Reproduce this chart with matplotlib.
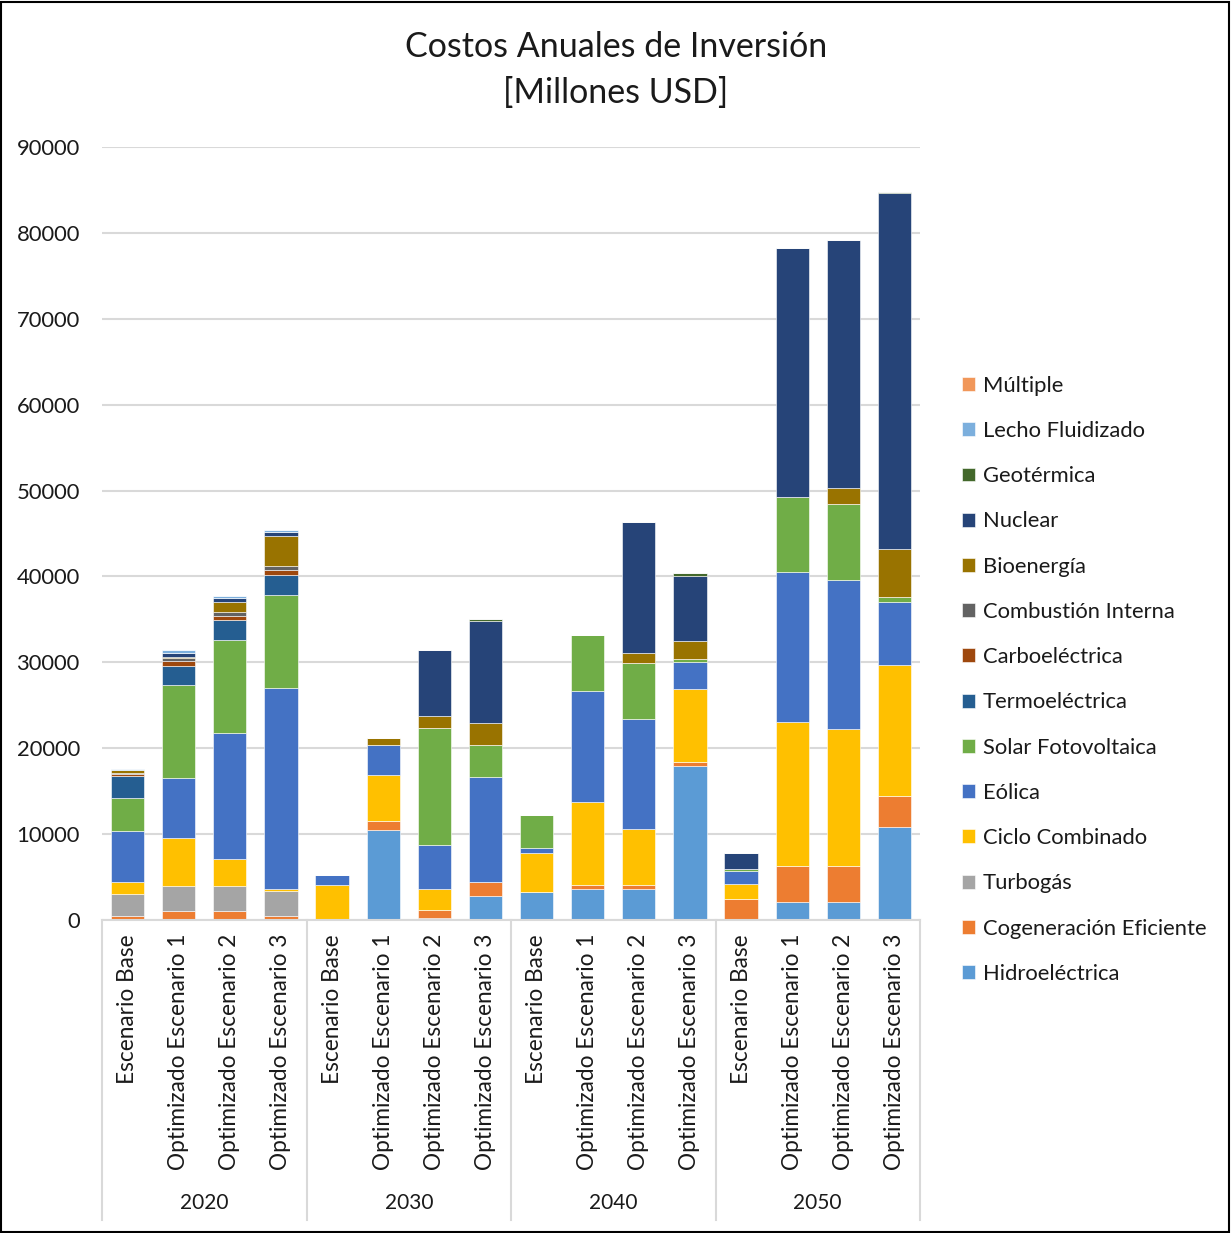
import matplotlib
matplotlib.use("Agg")
import matplotlib.pyplot as plt
from matplotlib.patches import Rectangle
from matplotlib.transforms import blended_transform_factory
import numpy as np

plt.rcParams['font.family'] = ['Lato', 'DejaVu Sans']

years = ["2020", "2030", "2040", "2050"]
scenarios = ["Escenario Base", "Optimizado Escenario 1", "Optimizado Escenario 2", "Optimizado Escenario 3"]

# stacking order bottom -> top
tech = ["Hidroeléctrica", "Cogeneración Eficiente", "Turbogás", "Ciclo Combinado", "Eólica",
        "Solar Fotovoltaica", "Termoeléctrica", "Carboeléctrica", "Combustión Interna",
        "Bioenergía", "Nuclear", "Geotérmica", "Lecho Fluidizado", "Múltiple"]
colors = ["#5B9BD5", "#ED7D31", "#A5A5A5", "#FFC000", "#4472C4", "#70AD47", "#255E91",
          "#9E480E", "#636363", "#997300", "#264478", "#43682B", "#7CAFDD", "#F1975A"]

# values per bar (16 bars: 2020 x4, 2030 x4, 2040 x4, 2050 x4), millones USD
hidro      = [0, 0, 0, 0,          0, 10470, 200, 2850,       3220, 3570, 3570, 17900,    0, 2130, 2130, 10780]
cogen      = [500, 1000, 1000, 520, 0, 1010, 990, 1550,       0, 470, 470, 470,           2470, 4200, 4200, 3600]
turbogas   = [2500, 2940, 2940, 2910, 0, 0, 0, 0,             50, 0, 0, 0,                0, 0, 0, 0]
ciclo      = [1440, 5590, 3180, 230, 4060, 5360, 2400, 80,    4500, 9750, 6520, 8540,     1720, 16770, 15880, 15330]
eolica     = [5980, 6950, 14640, 23340, 1130, 3530, 5130, 12150, 580, 12890, 12890, 3180, 1490, 17380, 17430, 7300]
solar      = [3800, 10900, 10870, 10870, 0, 0, 13670, 3770,   3880, 6490, 6490, 310,      220, 8800, 8800, 610]
termo      = [2490, 2250, 2250, 2290, 0, 0, 0, 0,             0, 0, 0, 0,                 0, 0, 0, 0]
carbo      = [250, 470, 540, 580, 0, 0, 0, 0,                 0, 0, 0, 0,                 0, 0, 0, 0]
combustion = [200, 350, 390, 430, 0, 0, 0, 0,                 0, 0, 0, 0,                 0, 0, 0, 0]
bio        = [250, 200, 1200, 3500, 0, 820, 1320, 2490,       0, 0, 1130, 2100,           0, 0, 1830, 5590]
nuclear    = [0, 470, 430, 470, 0, 0, 7730, 11880,            0, 0, 15260, 7570,          1880, 28940, 28890, 41450]
geo        = [0, 0, 0, 0, 0, 0, 0, 310,                       0, 0, 0, 350,               0, 0, 0, 150]
lecho      = [150, 310, 270, 230, 0, 0, 0, 0,                 0, 0, 0, 0,                 0, 0, 0, 0]
multiple   = [0, 0, 0, 0, 0, 0, 0, 0,                         0, 0, 0, 0,                 0, 0, 0, 0]

series = [hidro, cogen, turbogas, ciclo, eolica, solar, termo, carbo, combustion,
          bio, nuclear, geo, lecho, multiple]

W, H = 1231, 1233
fig = plt.figure(figsize=(W / 100, H / 100), dpi=100)
ax = fig.add_axes([102 / W, 1 - 920 / H, (920 - 102) / W, (920 - 147) / H])

x = np.arange(len(years) * len(scenarios))
bottom = np.zeros(len(x))
for name, vals, c in zip(tech, series, colors):
    v = np.array(vals, dtype=float)
    ax.bar(x, v, bottom=bottom, width=0.65, color=c, label=name,
           edgecolor="white", linewidth=0.4)
    bottom += v

txtc = "#1a1a1a"
ax.set_xlim(-0.5, len(x) - 0.5)
ax.set_ylim(0, 90000)
ax.set_yticks(np.arange(0, 90001, 10000))
ax.yaxis.grid(True, color="#D9D9D9", linewidth=1.5)
ax.set_axisbelow(True)
for s in ["top", "right", "left"]:
    ax.spines[s].set_visible(False)
ax.spines["bottom"].set_color("#D9D9D9")
ax.spines["bottom"].set_linewidth(1.5)
ax.tick_params(axis="y", length=0, pad=16, labelsize=15.8, labelcolor=txtc)
ax.tick_params(axis="x", length=0, pad=10, labelsize=16.3, labelcolor=txtc)
ax.set_xticks(x)
ax.set_xticklabels(scenarios * len(years), rotation=90, va="top", ha="center")

trans = blended_transform_factory(ax.transData, ax.transAxes)
ysep = -(1220 - 920) / (920 - 147)
for b in np.arange(-0.5, len(x), len(scenarios)):
    ax.plot([b, b], [0, ysep], transform=trans, color="#D9D9D9", linewidth=1.5, clip_on=False)
for i, yr in enumerate(years):
    ax.text(i * len(scenarios) + 1.5, -(1203 - 920) / (920 - 147), yr, transform=trans,
            ha="center", va="center", fontsize=15, color=txtc)

fig.text(616 / W, 1 - 70 / H, "Costos Anuales de Inversión\n[Millones USD]", ha="center",
         va="center", fontsize=24.5, color=txtc, linespacing=1.55)

# legend (reverse order, top = Múltiple)
handles, labels = ax.get_legend_handles_labels()
leg = fig.legend(handles[::-1], labels[::-1], loc="upper left",
                 bbox_to_anchor=(942 / W, 1 - 356 / H), frameon=False,
                 fontsize=15.8, handlelength=0.6, handleheight=0.6,
                 handletextpad=0.35, labelspacing=1.15)
for t in leg.get_texts():
    t.set_color(txtc)

fig.patches.append(Rectangle((1 / W, 1 / H), 1 - 3 / W, 1 - 3 / H, transform=fig.transFigure,
                             fill=False, edgecolor="black", linewidth=1.5))

fig.savefig("out.png", dpi=100, facecolor="white")
